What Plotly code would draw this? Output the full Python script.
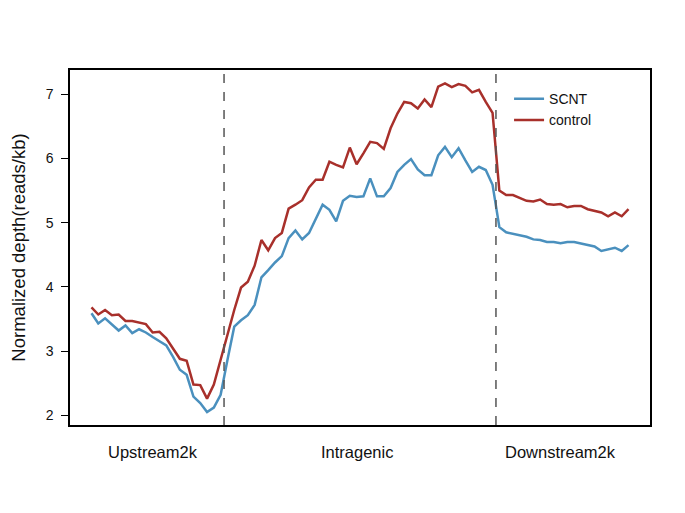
import plotly.graph_objects as go

bins = list(range(1, 81))

scnt = [3.59, 3.43, 3.51, 3.42, 3.32, 3.40, 3.28, 3.34, 3.29, 3.22,
        3.15, 3.09, 2.91, 2.71, 2.63, 2.29, 2.19, 2.05, 2.12, 2.32,
        2.86, 3.38, 3.48, 3.56, 3.72, 4.15, 4.26, 4.38, 4.48, 4.76,
        4.88, 4.74, 4.84, 5.07, 5.28, 5.20, 5.02, 5.34, 5.42, 5.40,
        5.41, 5.69, 5.41, 5.41, 5.54, 5.79, 5.90, 5.99, 5.83, 5.74,
        5.74, 6.05, 6.18, 6.02, 6.16, 5.97, 5.79, 5.87, 5.82, 5.59,
        4.93, 4.85, 4.83, 4.81, 4.78, 4.74, 4.73, 4.70, 4.70, 4.68,
        4.70, 4.70, 4.68, 4.65, 4.63, 4.56, 4.59, 4.61, 4.56, 4.65]

control = [3.68, 3.57, 3.64, 3.56, 3.57, 3.47, 3.47, 3.44, 3.42, 3.29,
           3.30, 3.20, 3.05, 2.88, 2.85, 2.48, 2.47, 2.26, 2.48, 2.86,
           3.28, 3.64, 3.99, 4.08, 4.33, 4.73, 4.57, 4.76, 4.84, 5.22,
           5.28, 5.35, 5.55, 5.67, 5.67, 5.95, 5.90, 5.86, 6.17, 5.91,
           6.08, 6.26, 6.24, 6.15, 6.47, 6.70, 6.88, 6.86, 6.78, 6.92,
           6.80, 7.12, 7.17, 7.11, 7.16, 7.13, 7.03, 7.07, 6.88, 6.71,
           5.50, 5.43, 5.43, 5.38, 5.34, 5.33, 5.36, 5.29, 5.28, 5.29,
           5.24, 5.26, 5.26, 5.21, 5.19, 5.16, 5.10, 5.16, 5.10, 5.21]

region_labels = ["Upstream2k", "Intragenic", "Downstream2k"]
region_centers = [10, 40, 70]
boundaries = [20.5, 60.5]
y_ticks = [2, 3, 4, 5, 6, 7]

font_family = "Liberation Sans, Arial, sans-serif"

fig = go.Figure()
fig.add_trace(go.Scatter(x=bins, y=scnt, mode="lines", name="SCNT",
                         line=dict(color="#4a90be", width=2.5)))
fig.add_trace(go.Scatter(x=bins, y=control, mode="lines", name="control",
                         line=dict(color="#a8302b", width=2.5)))

for b in boundaries:
    fig.add_shape(type="line", xref="x", yref="paper", x0=b, x1=b, y0=0, y1=1,
                  line=dict(color="#555555", width=1.5, dash="dash"))

for lab, c in zip(region_labels, region_centers):
    fig.add_annotation(x=c, xref="x", y=-0.075, yref="paper", text=lab,
                       showarrow=False, font=dict(size=16.5, color="#111111", family=font_family),
                       yanchor="middle")

fig.update_layout(
    width=685, height=513,
    margin=dict(l=62, r=43, t=62, b=96, autoexpand=False),
    paper_bgcolor="white", plot_bgcolor="white",
    font=dict(family=font_family, color="#111111"),
    showlegend=True,
    legend=dict(x=0.757, y=0.963, xanchor="left", yanchor="top",
                bgcolor="rgba(0,0,0,0)", font=dict(size=14),
                tracegroupgap=0, itemwidth=30),
    xaxis=dict(range=[-2.16, 83.16], showgrid=False, zeroline=False,
               showticklabels=False, ticks="", showline=True, mirror=True,
               linecolor="black", linewidth=1.5, automargin=False),
    yaxis=dict(range=[1.849, 7.378], tickvals=y_ticks, showgrid=False, zeroline=False,
               ticks="outside", ticklen=7, tickwidth=1.2, tickcolor="black",
               tickfont=dict(size=14), ticklabelstandoff=5, automargin=False,
               showline=True, mirror=True,
               linecolor="black", linewidth=1.5,
               title=dict(text="Normalized depth(reads/kb)", font=dict(size=18.5), standoff=19)),
)

fig.write_html("out.html")
